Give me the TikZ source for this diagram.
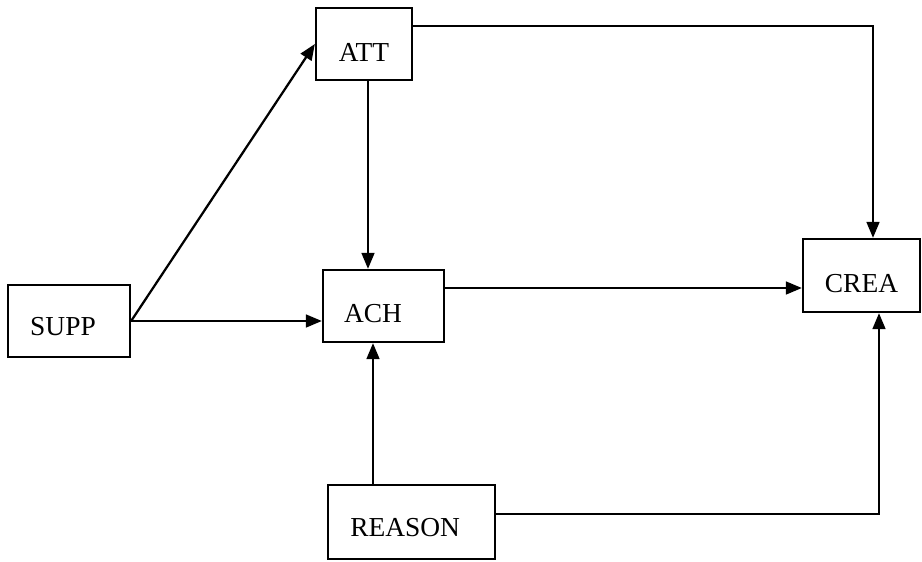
\documentclass[tikz,border=0pt]{standalone}
\usepackage{fontspec}
\setmainfont{Liberation Serif}
\usetikzlibrary{arrows.meta}
\begin{document}
\begin{tikzpicture}[x=0.025cm, y=-0.025cm,
  var/.style={draw, line width=1.6pt, inner sep=0pt, minimum height=1.8cm},
  txt/.style={font=\fontsize{19.5}{23}\selectfont, inner sep=0pt},
  link/.style={line width=1.6pt, -{Triangle[length=0.4cm, width=0.32cm]}}]
\useasboundingbox (0,0) rectangle (922,561);

% variables (labels sit a little low in their boxes)
\node[var, minimum width=2.4cm,
      label={[txt, yshift=-0.2cm]center:ATT}] (att) at (364,44) {};
\node[var, minimum width=3.05cm,
      label={[txt, xshift=-0.15cm, yshift=-0.15cm]center:SUPP}] (supp) at (69,321) {};
\node[var, minimum width=3.025cm,
      label={[txt, xshift=-0.26cm, yshift=-0.18cm]center:ACH}] (ach) at (383.5,306) {};
\node[var, minimum width=2.925cm, minimum height=1.825cm,
      label={[txt, yshift=-0.19cm]center:CREA}] (crea) at (861.5,275.5) {};
\node[var, minimum width=4.175cm, minimum height=1.85cm,
      label={[txt, xshift=-0.16cm, yshift=-0.15cm]center:REASON}] (reason) at (411.5,522) {};

% routing points
\coordinate (k1) at (873,26);
\coordinate (k2) at (0,288);
\coordinate (k3) at (373,0);
\coordinate (k4) at (879,514);
\coordinate (k5) at (368,0);

% paths
\draw[link] (supp.east) -- (att.west);
\draw[link] (supp.east) -- (supp.east -| ach.west);
\draw[link] (att.south -| k5) -- (k5 |- ach.north);
\draw[link] (att.east |- k1) -- (k1) -- (k1 |- crea.north);
\draw[link] (ach.east |- k2) -- (crea.west |- k2);
\draw[link] (reason.north -| k3) -- (k3 |- ach.south);
\draw[link] (reason.east |- k4) -- (k4) -- (k4 |- crea.south);
\end{tikzpicture}
\end{document}
